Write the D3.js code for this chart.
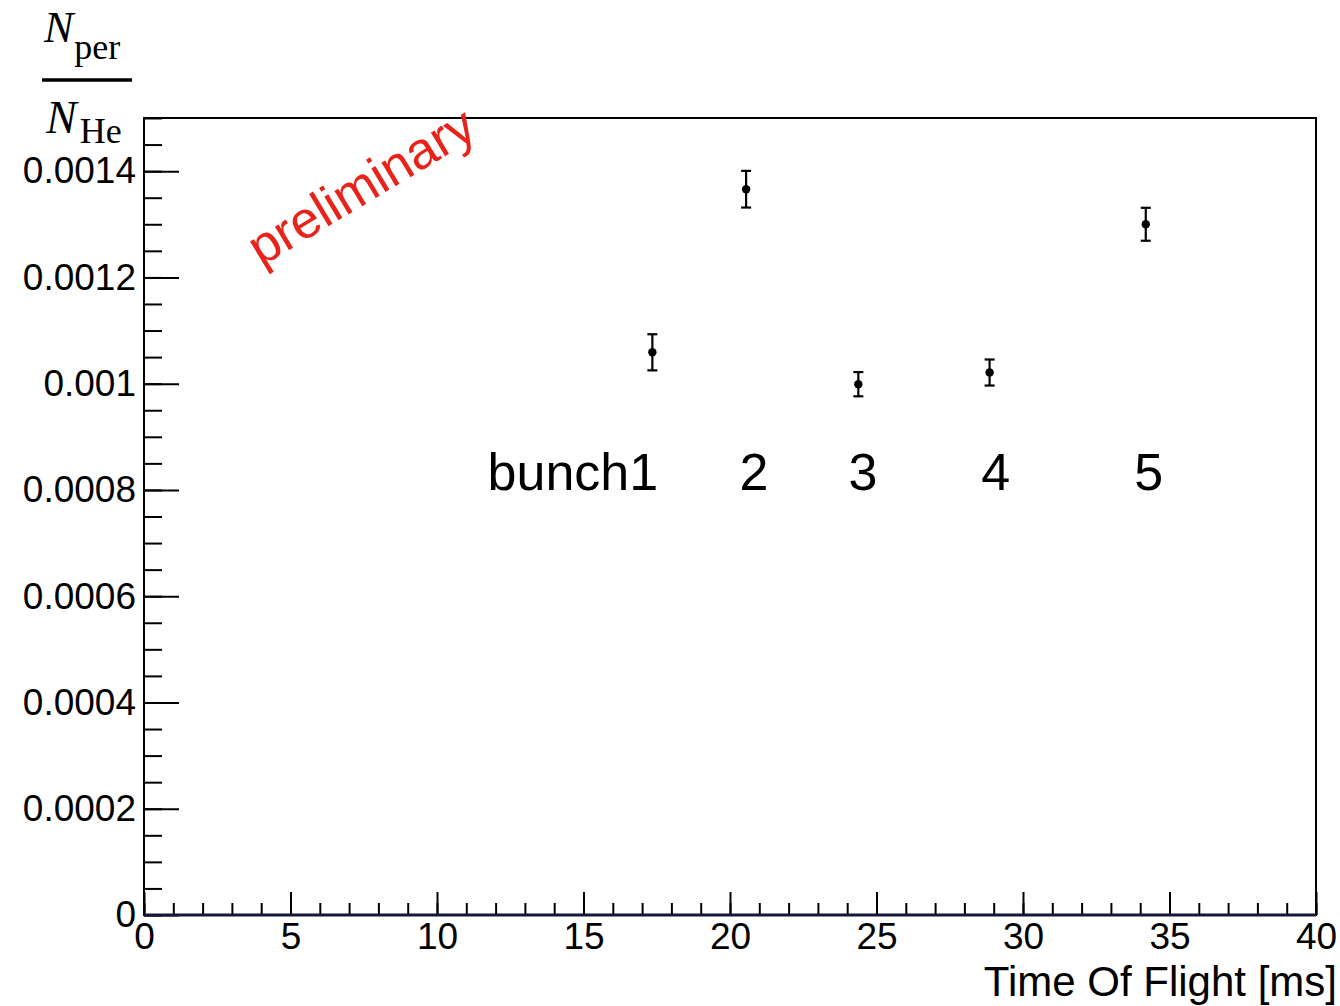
<!DOCTYPE html>
<html>
<head>
<meta charset="utf-8">
<script src="https://cdn.jsdelivr.net/npm/d3@7"></script>
<style>
  body { margin: 0; background: #fff; }
  text { font-family: "Liberation Sans", Arial, Helvetica, sans-serif; }
  .serif { font-family: "Liberation Serif", "Times New Roman", serif; }
</style>
</head>
<body>
<svg id="vis" width="1340" height="1006"></svg>
<script>
// measured points (time of flight in ms, ratio, error)
var tof   = [17.35, 20.55, 24.38, 28.86, 34.19];
var ratio = [0.001059, 0.001366, 0.000999, 0.001021, 0.001300];
var err   = [0.000034, 0.0000345, 0.0000228, 0.0000245, 0.000031];

// bunch labels
var bunchLabels = ["bunch1", "2", "3", "4", "5"];
var bunchLabelX = [17.55, 20.82, 24.54, 29.07, 34.29];
var bunchLabelY = 0.0008;

var xDomain = [0, 40];
var yDomain = [0, 0.0015];
var yTickVals = [0, 0.0002, 0.0004, 0.0006, 0.0008, 0.001, 0.0012, 0.0014];

var svg = d3.select("#vis"),
    margin = {top: 118, right: 24, bottom: 91, left: 144},
    width = +svg.attr("width") - margin.left - margin.right,
    height = +svg.attr("height") - margin.top - margin.bottom,
    g = svg.append("g").attr("transform", "translate(" + margin.left + "," + margin.top + ")");

var x = d3.scaleLinear().domain(xDomain).range([0, width]);
var y = d3.scaleLinear().domain(yDomain).range([height, 0]);

// frame
g.append("rect")
    .attr("width", width)
    .attr("height", height)
    .attr("fill", "none")
    .attr("stroke", "#000")
    .attr("stroke-width", 2);

// y minor ticks (inside)
g.append("g")
    .call(d3.axisRight(y).tickValues(d3.range(0, 0.0015 + 1e-9, 0.00005)).tickSize(18).tickFormat(""))
    .call(function(a) { a.select(".domain").remove(); a.selectAll("line").attr("stroke-width", 2); });

// y major ticks
g.append("g")
    .call(d3.axisRight(y).tickValues(yTickVals).tickSize(35).tickFormat(""))
    .call(function(a) { a.select(".domain").remove(); a.selectAll("line").attr("stroke-width", 2); });

// y labels
g.append("g")
    .call(d3.axisLeft(y).tickValues(yTickVals).tickSize(0).tickPadding(8)
          .tickFormat(function(d) { return d === 0 ? "0" : d3.format(".4~f")(d); }))
    .call(function(a) {
      a.select(".domain").remove();
      a.selectAll("text").style("font-size", "37px").attr("fill", "#000")
       .attr("font-family", "Liberation Sans, Arial, sans-serif");
    });

// x minor ticks (inside, pointing up)
g.append("g")
    .attr("transform", "translate(0," + height + ")")
    .call(d3.axisTop(x).tickValues(d3.range(0, 41, 1)).tickSize(12).tickFormat(""))
    .call(function(a) { a.select(".domain").remove(); a.selectAll("line").attr("stroke-width", 2); });

// x major ticks
g.append("g")
    .attr("transform", "translate(0," + height + ")")
    .call(d3.axisTop(x).tickValues(d3.range(0, 41, 5)).tickSize(23).tickFormat(""))
    .call(function(a) { a.select(".domain").remove(); a.selectAll("line").attr("stroke-width", 2); });

// x labels
g.append("g")
    .attr("transform", "translate(0," + height + ")")
    .call(d3.axisBottom(x).tickValues(d3.range(0, 41, 5)).tickSize(0).tickPadding(8))
    .call(function(a) {
      a.select(".domain").remove();
      a.selectAll("text").style("font-size", "37px").attr("fill", "#000")
       .attr("font-family", "Liberation Sans, Arial, sans-serif");
    });

// the x axis line at zero (dark blue)
g.append("line")
    .attr("x1", 0).attr("x2", width)
    .attr("y1", y(0)).attr("y2", y(0))
    .attr("stroke", "#161636")
    .attr("stroke-width", 3);

// x axis title
svg.append("text")
    .attr("x", 1337)
    .attr("y", 996)
    .attr("text-anchor", "end")
    .style("font-size", "42px")
    .text("Time Of Flight [ms]");

// y axis title, a fraction N_per / N_He
var yt = svg.append("g").attr("class", "serif");
var num = yt.append("text").attr("x", 44).attr("y", 42).attr("class", "serif");
num.append("tspan").style("font-style", "italic").style("font-size", "44px").text("N");
num.append("tspan").attr("dy", 17).attr("dx", 1).style("font-size", "36px").text("per");
yt.append("line")
    .attr("x1", 42).attr("x2", 132)
    .attr("y1", 80).attr("y2", 80)
    .attr("stroke", "#000")
    .attr("stroke-width", 3.5);
var den = yt.append("text").attr("x", 46).attr("y", 133).attr("class", "serif");
den.append("tspan").style("font-style", "italic").style("font-size", "46px").text("N");
den.append("tspan").attr("dy", 10).attr("dx", 3).style("font-size", "36px").text("He");

// error bars
var pts = tof.map(function(t, i) { return {t: t, v: ratio[i], e: err[i]}; });

g.selectAll(".ebar").data(pts).enter().append("line")
    .attr("class", "ebar")
    .attr("x1", function(d) { return x(d.t); })
    .attr("x2", function(d) { return x(d.t); })
    .attr("y1", function(d) { return y(d.v - d.e); })
    .attr("y2", function(d) { return y(d.v + d.e); })
    .attr("stroke", "#000")
    .attr("stroke-width", 2.2);

g.selectAll(".capTop").data(pts).enter().append("line")
    .attr("x1", function(d) { return x(d.t) - 5; })
    .attr("x2", function(d) { return x(d.t) + 5; })
    .attr("y1", function(d) { return y(d.v + d.e); })
    .attr("y2", function(d) { return y(d.v + d.e); })
    .attr("stroke", "#000")
    .attr("stroke-width", 2.2);

g.selectAll(".capBot").data(pts).enter().append("line")
    .attr("x1", function(d) { return x(d.t) - 5; })
    .attr("x2", function(d) { return x(d.t) + 5; })
    .attr("y1", function(d) { return y(d.v - d.e); })
    .attr("y2", function(d) { return y(d.v - d.e); })
    .attr("stroke", "#000")
    .attr("stroke-width", 2.2);

g.selectAll(".dot").data(pts).enter().append("circle")
    .attr("cx", function(d) { return x(d.t); })
    .attr("cy", function(d) { return y(d.v); })
    .attr("r", 4.2)
    .attr("fill", "#000");

// bunch labels
g.selectAll(".blabel").data(bunchLabels).enter().append("text")
    .attr("x", function(d, i) { return x(bunchLabelX[i]); })
    .attr("y", y(bunchLabelY))
    .attr("text-anchor", function(d, i) { return i === 0 ? "end" : "middle"; })
    .style("font-size", "52px")
    .text(function(d) { return d; });

// preliminary stamp
g.append("text")
    .attr("transform", "translate(" + x(4.0) + "," + y(0.00122) + ") rotate(-31)")
    .attr("fill", "#e8231a")
    .style("font-size", "52px")
    .text("preliminary");
</script>
</body>
</html>
